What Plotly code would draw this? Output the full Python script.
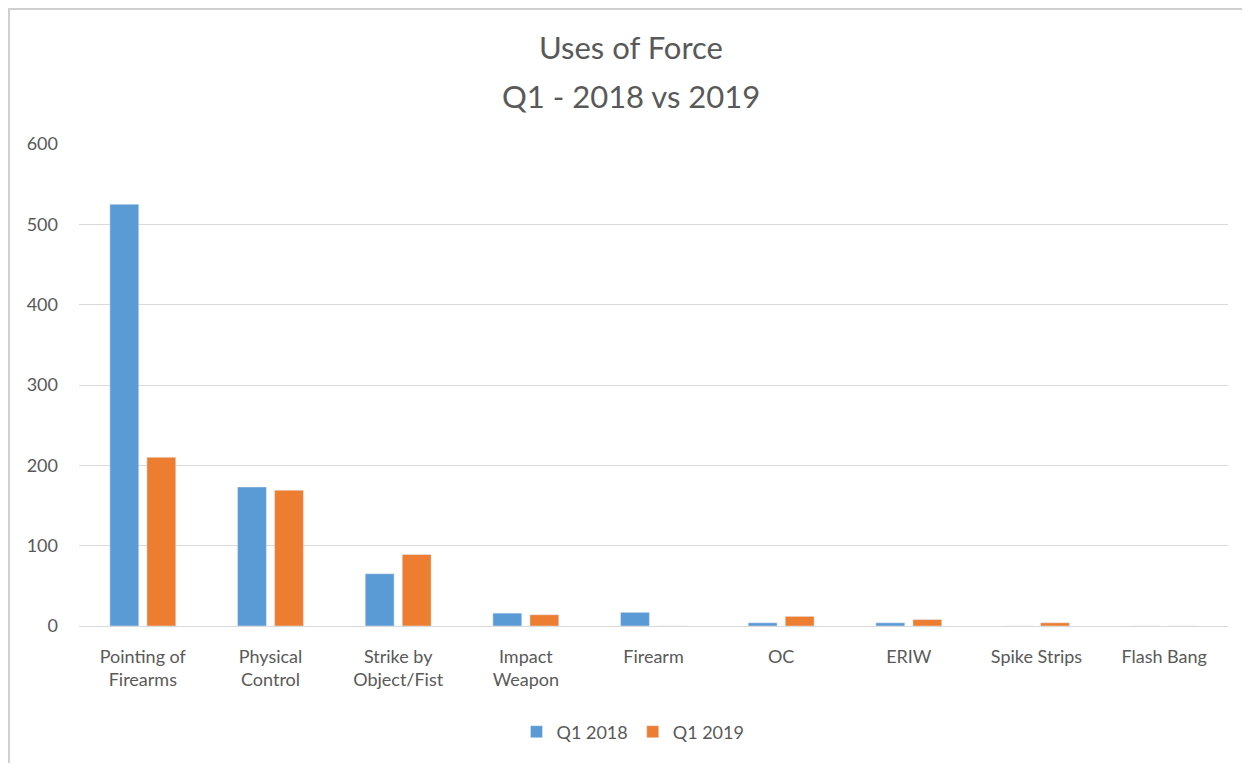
import plotly.graph_objects as go

categories = ["Pointing of<br>Firearms", "Physical<br>Control", "Strike by<br>Object/Fist",
              "Impact<br>Weapon", "Firearm", "OC", "ERIW", "Spike Strips", "Flash Bang"]
q1_2018 = [525, 173, 65, 16, 17, 4, 4, 0, 0]
q1_2019 = [210, 169, 89, 14, 0, 12, 8, 4, 0]
series_names = ["Q1 2018", "Q1 2019"]
title_lines = ["Uses of Force", "Q1 - 2018 vs 2019"]

FONT = "Lato"
GRAY = "#595959"
GRID = "#d9d9d9"

fig = go.Figure()
fig.add_trace(go.Bar(x=categories, y=q1_2018, name=series_names[0], marker_color="#5B9BD5"))
fig.add_trace(go.Bar(x=categories, y=q1_2019, name=series_names[1], marker_color="#ED7D31"))

OFF = 8  # page body margin
W, H = 1242, 755
L, R, T, B = 71, 22, 136, 137
ph = H - T - B
pw = W - L - R

def py(ypix):  # ypix in screenshot coords
    return (H - B - (ypix - OFF)) / ph

def px(xpix):
    return ((xpix - OFF) - L) / pw

fig.update_layout(
    width=W, height=H,
    margin=dict(l=L, r=R, t=T, b=B),
    paper_bgcolor="white", plot_bgcolor="white",
    font=dict(family=FONT, color=GRAY, size=18),
    barmode="group", bargap=0.42, bargroupgap=0.22,
    showlegend=True,
    legend=dict(orientation="h", x=px(633), xanchor="center", y=py(732), yanchor="middle",
                font=dict(size=18, color=GRAY), itemwidth=30, tracegroupgap=0),
    annotations=[
        dict(text=title_lines[0], x=px(631), xref="paper", y=py(47), yref="paper",
             showarrow=False, font=dict(size=31, color=GRAY), xanchor="center", yanchor="middle"),
        dict(text=title_lines[1], x=px(631), xref="paper", y=py(96), yref="paper",
             showarrow=False, font=dict(size=31, color=GRAY), xanchor="center", yanchor="middle"),
    ],
    shapes=[
        dict(type="line", xref="paper", yref="paper", x0=px(8), x1=px(1250), y0=py(9), y1=py(9),
             line=dict(color="#d0d0d0", width=2)),
        dict(type="line", xref="paper", yref="paper", x0=px(9), x1=px(9), y0=py(9), y1=py(763),
             line=dict(color="#d0d0d0", width=2)),
    ],
)
fig.update_yaxes(range=[0, 600], dtick=100, gridcolor=GRID, gridwidth=1, zeroline=False,
                 showline=False, ticks="", ticklabelstandoff=20,
                 tickfont=dict(size=18, color=GRAY), fixedrange=True)
fig.update_xaxes(showline=True, linecolor=GRID, linewidth=1, ticks="", tickangle=0,
                 tickfont=dict(size=18, color=GRAY), ticklabelstandoff=14)

fig.write_html("out.html")
